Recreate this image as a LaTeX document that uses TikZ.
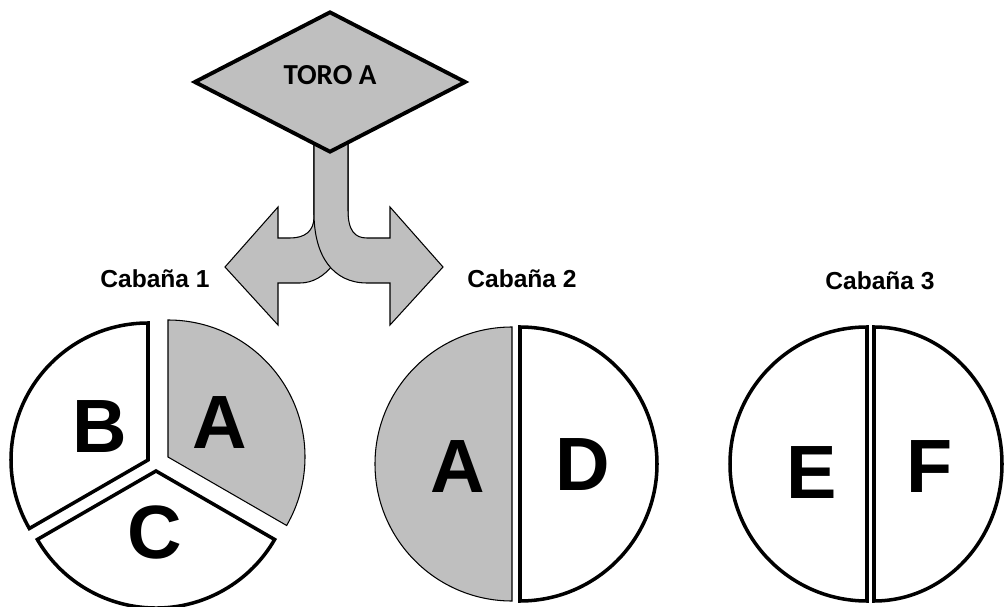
\documentclass[tikz,border=0pt]{standalone}
\usepackage{fontspec}
\setmainfont{Liberation Sans}
\newfontfamily\calibri{Carlito}
\usepackage{tikz}
\usetikzlibrary{shapes.geometric}

\begin{document}
\begin{tikzpicture}[x=0.02cm,y=0.02cm,
  greypart/.style={fill=lightgray,draw=black,line width=0.6pt},
  whitepart/.style={fill=white,draw=black,line width=2pt},
  bigletter/.style={font=\bfseries\fontsize{43}{48}\selectfont},
  hutlabel/.style={font=\bfseries\fontsize{14}{16}\selectfont}]
\useasboundingbox (0,0) rectangle (1005,606);

% split arrow (left branch behind)
\draw[greypart] (314,472) -- (314,389) .. controls (314,375) and (305,368) .. (290,368)
  -- (278,368) -- (278,399) -- (225,339) -- (278,281) -- (278,323) -- (300,323)
  .. controls (325,323) and (348,350) .. (348,393) -- (348,472) -- cycle;
\draw[greypart] (314,472) -- (314,393) .. controls (314,350) and (333,323) .. (367,323)
  -- (390,323) -- (390,281) -- (443,339) -- (390,399) -- (390,368) -- (367,368)
  .. controls (355,368) and (348,375) .. (348,396) -- (348,472) -- cycle;

% bull
\node[diamond,fill=lightgray,draw=black,line width=2.2pt,inner sep=0pt,
  minimum width=5.44cm,minimum height=2.82cm] (toro) at (330,524) {};
\node[font=\calibri\bfseries\fontsize{16.5}{19}\selectfont] (toroname) at (330,531) {TORO A};

% hut 1
\filldraw[greypart] (168,149) -- ++(90:137) arc[start angle=90,end angle=-30,radius=137] -- cycle;
\filldraw[whitepart] (148,146) -- ++(90:137) arc[start angle=90,end angle=210,radius=137] -- cycle;
\filldraw[whitepart] (156,135) -- ++(210:137) arc[start angle=210,end angle=330,radius=137] -- cycle;
\node[bigletter] (a1) at (220,183) {A};
\node[bigletter] (b1) at (100,179) {B};
\node[bigletter] (c1) at (155,74) {C};

% hut 2
\filldraw[greypart] (512,279) arc[start angle=90,end angle=270,radius=137] -- cycle;
\filldraw[whitepart] (520,279) arc[start angle=90,end angle=-90,radius=137] -- cycle;
\node[bigletter] (a2) at (458,139) {A};
\node[bigletter] (d2) at (583,141) {D};

% hut 3
\filldraw[whitepart] (867,279) arc[start angle=90,end angle=270,radius=137] -- cycle;
\filldraw[whitepart] (874,279) arc[start angle=90,end angle=-90,x radius=128,y radius=137] -- cycle;
\node[bigletter] (e3) at (812,133) {E};
\node[bigletter] (f3) at (930,139) {F};

\node[hutlabel] (hut1) at (155,327) {Cabaña 1};
\node[hutlabel] (hut2) at (522,327) {Cabaña 2};
\node[hutlabel] (hut3) at (880,325) {Cabaña 3};
\end{tikzpicture}
\end{document}
